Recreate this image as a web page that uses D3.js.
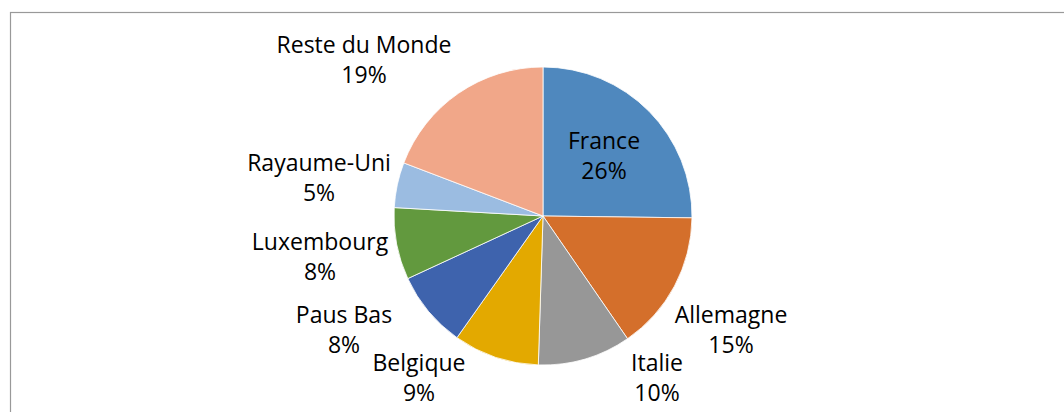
<!DOCTYPE html>
<html>
<head>
<meta charset="utf-8">
<script src="https://cdn.jsdelivr.net/npm/d3@7"></script>
<style>
  body { margin: 0; background: #fff; }
  text { font-family: "Open Sans", "Noto Sans", sans-serif; fill: #000; }
</style>
</head>
<body>
<div id="chart"></div>
<script>
// Données
const pays = ['France', 'Allemagne', 'Italie', 'Belgique', 'Paus Bas', 'Luxembourg', 'Rayaume-Uni', 'Reste du Monde'];
const parts = [25.2, 15.2, 10.1, 9.3, 8.3, 7.8, 4.9, 19.2];
const pourcentages = ['26%', '15%', '10%', '9%', '8%', '8%', '5%', '19%'];
const couleurs = ['#4f88be', '#d46f2b', '#979797', '#e3a900', '#3e63ad', '#62993e', '#9bbce1', '#f1a789'];

// position des étiquettes (centre du texte, baseline de la 1re ligne)
const etiquettes = [
    [604, 149], [731, 323], [657, 371], [419, 371],
    [344, 323], [320, 250], [319, 171], [364, 53]
];

const width = 1064, height = 412;
const cx = 543, cy = 216, radius = 149;

const svg = d3.select('#chart')
    .append('svg')
    .attr('width', width)
    .attr('height', height);

// cadre
svg.append('rect')
    .attr('x', 10.5)
    .attr('y', 12.5)
    .attr('width', width + 20)
    .attr('height', height + 20)
    .attr('fill', 'none')
    .attr('stroke', '#999')
    .attr('stroke-width', 1.2);

const pie = d3.pie().sort(null).value(d => d);
const arc = d3.arc().innerRadius(0).outerRadius(radius);

const g = svg.append('g')
    .attr('transform', `translate(${cx},${cy})`);

g.selectAll('path')
    .data(pie(parts))
    .enter()
    .append('path')
    .attr('d', arc)
    .attr('fill', (d, i) => couleurs[i])
    .attr('stroke', '#fff')
    .attr('stroke-width', 0.8);

// labels
const labels = svg.selectAll('text.label')
    .data(pays)
    .enter()
    .append('text')
    .attr('class', 'label')
    .attr('text-anchor', 'middle')
    .attr('font-size', 23)
    .attr('x', (d, i) => etiquettes[i][0])
    .attr('y', (d, i) => etiquettes[i][1]);

labels.append('tspan')
    .attr('x', (d, i) => etiquettes[i][0])
    .text(d => d);

labels.append('tspan')
    .attr('x', (d, i) => etiquettes[i][0])
    .attr('dy', 30)
    .text((d, i) => pourcentages[i]);
</script>
</body>
</html>
